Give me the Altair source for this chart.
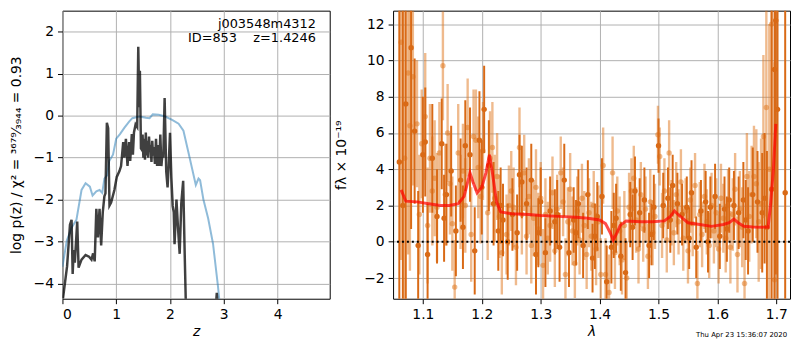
import altair as alt
import pandas as pd

# ---------------- left panel: log p(z) ----------------
z_blue = [0.0, 0.08, 0.17, 0.26, 0.355, 0.43, 0.51, 0.56, 0.63, 0.69, 0.74, 0.78, 0.83, 0.87, 0.94,
          1.0, 1.07, 1.15, 1.24, 1.30, 1.43, 1.55, 1.62, 1.68, 1.79, 1.91, 2.04, 2.16, 2.25, 2.34,
          2.42, 2.48, 2.53, 2.56, 2.62, 2.71, 2.80, 2.89, 2.95]
lp_blue = [-3.6, -2.98, -2.67, -2.48, -1.77, -1.61, -1.69, -1.9, -1.8, -1.77, -1.84, -1.5, -1.42, -1.08, -0.93,
           -0.55, -0.44, -0.29, -0.14, -0.06, -0.02, -0.05, -0.06, 0.03, 0.02, -0.02, -0.1, -0.19, -0.36, -0.86,
           -1.31, -1.65, -1.5, -1.54, -1.99, -2.45, -3.05, -4.04, -4.8]

z_black_a = [0.01, 0.086, 0.14, 0.17, 0.19, 0.21, 0.23, 0.275, 0.30, 0.355, 0.43, 0.495, 0.54, 0.57, 0.60,
             0.63, 0.66, 0.69, 0.72, 0.75, 0.78, 0.80, 0.826, 0.85, 0.875, 0.905, 0.966, 1.01, 1.06, 1.09,
             1.13, 1.15, 1.18, 1.21, 1.24, 1.26, 1.29, 1.31, 1.33, 1.36, 1.39, 1.41, 1.43, 1.44, 1.46,
             1.47, 1.49, 1.505, 1.52, 1.535, 1.55, 1.565, 1.58, 1.595, 1.61, 1.625, 1.64, 1.655, 1.67, 1.685,
             1.70, 1.72, 1.74, 1.76, 1.78, 1.80, 1.82, 1.84, 1.86, 1.875, 1.90, 1.93, 1.955, 1.975, 2.0,
             2.025, 2.05, 2.07, 2.085, 2.12, 2.15, 2.18, 2.21, 2.245, 2.27, 2.30]
lp_black_a = [-4.35, -3.59, -2.6, -2.48, -3.77, -3.2, -3.5, -2.52, -3.62, -3.43, -3.32, -3.36, -3.43, -3.28, -3.47,
              -2.22, -2.9, -2.22, -3.09, -2.3, -1.92, -1.85, -0.17, -0.3, -2.14, -2.07, -1.77, -1.46, -1.32, -1.2,
              -0.63, -1.0, -0.55, -1.2, -0.63, -1.08, -0.44, -0.93, -0.4, -0.21, -0.27, 1.64, 0.2, 1.07, -0.78,
              -0.8, -0.45, -1.0, -0.55, -1.05, -0.4, -0.95, -0.6, -1.0, -0.5, -0.85, -0.7, -1.1, -0.6, -0.95,
              -0.75, -1.15, -0.55, -1.2, -0.7, -1.2, -0.45, -1.2, -0.9, -1.0, 0.42, -1.33, -1.71, -1.2, -0.41,
              -1.47, -2.15, -2.3, -3.06, -2.0, -2.7, -3.29, -2.09, -1.55, -3.1, -4.8]
z_black_b = [2.85, 2.87, 2.89]
lp_black_b = [-4.6, -4.22, -4.6]

label_name = "j003548m4312"
label_id = "ID=853\u00a0\u00a0\u00a0\u00a0z=1.4246"

# ---------------- right panel: spectrum ----------------
wave_dark = [1.060, 1.066, 1.071, 1.080, 1.086, 1.092, 1.100, 1.108, 1.116, 1.124, 1.132, 1.140, 1.148, 1.156,
             1.164, 1.172, 1.180, 1.188, 1.196, 1.204, 1.212, 1.220, 1.228, 1.236, 1.244, 1.252, 1.260, 1.268,
             1.276, 1.284, 1.292, 1.300, 1.308, 1.316, 1.324, 1.332, 1.340, 1.348, 1.356, 1.364, 1.372, 1.380,
             1.388, 1.396, 1.404, 1.412, 1.420, 1.428, 1.436, 1.444, 1.452, 1.460, 1.468, 1.476, 1.484, 1.492,
             1.500, 1.508, 1.516, 1.524, 1.532, 1.540, 1.548, 1.556, 1.564, 1.572, 1.580, 1.588, 1.596, 1.604,
             1.612, 1.620, 1.628, 1.636, 1.644, 1.652, 1.660, 1.668, 1.676, 1.684, 1.692, 1.697, 1.699, 1.702,
             1.715,
             1.104, 1.136, 1.168, 1.200, 1.232, 1.264, 1.296, 1.328, 1.360, 1.392, 1.424, 1.456, 1.488, 1.520,
             1.552, 1.584, 1.616, 1.648, 1.680]
flux_dark = [4.4, 2.0, 7.6, 10.7, 6.1, -0.2, 4.8, -0.7, 4.6, 1.4, 5.4, 2.6, 3.9, 0.6,
             3.4, 5.3, 4.8, -0.5, 5.6, 7.3, 4.2, 2.1, 0.6, 1.2, 0.0, 1.5, 0.5, 3.3,
             2.1, 3.4, -0.7, 2.2, -0.6, 1.7, 1.1, -0.3, 3.4, -0.6, 1.2, 2.1, -0.2, 2.6,
             -0.9, 1.4, 2.5, -2.2, -0.3, 1.3, -0.8, -1.7, 1.5, 2.8, 1.6, 2.3, -0.2, 1.9,
             5.3, 2.0, 2.4, 3.1, 2.1, 1.5, 1.9, 2.7, -0.3, 1.7, 2.2, 1.9, 2.5, 0.3,
             1.8, 2.3, 2.0, 1.6, 2.3, 0.6, 2.6, 2.2, 1.6, 0.8, 2.9, 9.5, 12.2, 7.3,
             2.7,
             5.5, 1.3, 0.8, 3.0, 2.0, 3.7, 0.5, 1.5, 0.5, 0.3, 0.9, 0.8, 0.4, 1.2,
             0.2, 0.0, 0.7, 1.2, 2.4]
err_dark = [12, 12, 12, 10, 4.0, 3.0, 3.2, 2.8, 3.0, 2.6, 2.5, 2.8, 2.5, 2.5,
            2.3, 2.5, 2.6, 2.4, 2.7, 2.4, 2.5, 2.3, 2.2, 2.0, 2.1, 2.0, 2.1, 2.0,
            2.0, 2.0, 2.2, 1.9, 1.9, 1.9, 1.8, 1.9, 2.0, 1.9, 1.8, 1.9, 1.8, 1.9,
            1.9, 1.9, 2.1, 2.0, 2.0, 1.9, 1.9, 1.9, 1.8, 1.9, 1.9, 1.8, 1.8, 1.8,
            1.5, 1.8, 1.7, 1.7, 1.7, 1.7, 1.7, 1.8, 1.7, 1.7, 1.7, 1.7, 1.8, 1.8,
            1.8, 1.8, 1.9, 2.0, 2.1, 2.4, 2.6, 2.8, 3.3, 4.2, 14, 14, 14, 14,
            20,
            3.0, 2.4, 2.3, 2.6, 2.1, 2.2, 1.9, 1.9, 1.8, 1.8, 1.8, 1.8, 1.7, 1.8,
            1.7, 1.7, 1.8, 2.2, 3.6]

wave_light = [1.063, 1.069, 1.075, 1.078, 1.083, 1.090, 1.098, 1.104, 1.112, 1.120, 1.128, 1.134, 1.142, 1.150,
              1.154, 1.160, 1.168, 1.176, 1.182, 1.186, 1.194, 1.202, 1.210, 1.218, 1.226, 1.234, 1.242, 1.250,
              1.258, 1.264, 1.272, 1.280, 1.288, 1.296, 1.304, 1.312, 1.320, 1.328, 1.334, 1.342, 1.350, 1.358,
              1.366, 1.374, 1.382, 1.390, 1.398, 1.406, 1.410, 1.416, 1.422, 1.430, 1.438, 1.446, 1.454, 1.462,
              1.470, 1.478, 1.486, 1.494, 1.499, 1.502, 1.510, 1.518, 1.526, 1.534, 1.542, 1.550, 1.558, 1.566,
              1.574, 1.582, 1.590, 1.598, 1.606, 1.614, 1.622, 1.630, 1.638, 1.646, 1.654, 1.662, 1.670, 1.678,
              1.683, 1.688, 1.692, 1.697,
              1.094, 1.108, 1.116, 1.124, 1.138, 1.146, 1.164, 1.172, 1.190, 1.198, 1.214, 1.222, 1.230, 1.246,
              1.254, 1.268, 1.276, 1.284, 1.292, 1.300, 1.308, 1.316, 1.324, 1.338, 1.346, 1.354, 1.362, 1.370,
              1.378, 1.386, 1.394, 1.402, 1.426, 1.434, 1.442, 1.450, 1.458, 1.466, 1.474, 1.482, 1.490, 1.506,
              1.514, 1.522, 1.530, 1.538, 1.546, 1.554, 1.562, 1.570, 1.578, 1.586, 1.594, 1.602, 1.610, 1.618,
              1.626, 1.634, 1.642, 1.650, 1.658, 1.666, 1.674]
flux_light = [11.0, 4.6, 9.3, 6.4, 9.1, 6.5, 5.4, 6.9, 4.6, 3.5, 4.9, 9.7, 6.0, 1.0,
              -2.5, 4.9, 3.9, 6.3, 0.4, 5.8, 4.1, 5.0, 1.6, 5.2, 3.6, -0.6, 0.4, 2.8,
              -0.3, 5.2, 3.8, 2.5, 1.3, 0.7, -1.3, 0.2, 2.7, 1.8, 3.8, -1.8, 2.9, -1.2,
              0.1, 0.9, 1.6, 2.0, 1.1, 4.2, -1.8, -2.8, 3.8, 1.7, -1.0, -2.0, 2.8, 1.2,
              2.6, 1.8, 2.2, 1.4, 5.9, 4.7, 2.8, 4.9, 0.5, 1.1, 0.2, -0.5, 1.0, -2.3,
              0.4, 1.1, 2.0, 1.6, 2.4, 0.2, -0.3, 2.9, 1.8, -2.3, 1.4, 3.6, 1.1, 5.8,
              7.4, 4.0, 12.0, -2.1,
              1.5, 0.9, 2.8, 1.9, 2.6, 3.2, 2.2, 2.0, 5.6, 2.5, 4.6, 2.4, 1.4, 2.0,
              1.9, 1.5, 0.3, -0.2, 3.0, 2.4, 1.5, 0.9, -0.5, 2.2, 1.1, 0.6, 1.7, 2.4,
              -0.7, 0.3, -0.4, -1.8, -0.6, 0.6, 0.9, 1.9, 3.5, -0.4, 0.7, -0.8, 0.5, 0.9,
              0.1, 1.6, 2.6, 3.3, 1.7, 2.3, 3.1, 1.5, 2.5, -0.2, 0.6, -0.4, 1.3, 2.0,
              1.5, -0.7, 0.8, 3.6, 2.6, 3.2, 2.1]
err_light = [12, 10, 10, 8, 6, 3.5, 3.0, 3.5, 3.0, 3.2, 2.8, 3.0, 2.7, 2.6,
             2.6, 2.7, 2.6, 2.7, 2.6, 2.6, 2.8, 2.7, 2.6, 2.5, 2.4, 2.3, 2.2, 2.2,
             2.1, 2.2, 2.1, 2.1, 2.1, 2.0, 2.0, 2.0, 2.0, 1.9, 2.0, 2.0, 2.0, 1.9,
             1.9, 1.9, 1.9, 1.9, 2.0, 2.1, 2.0, 2.1, 2.0, 1.9, 1.9, 2.0, 1.8, 1.8,
             1.8, 1.8, 1.8, 1.8, 1.6, 1.6, 1.8, 1.8, 1.8, 1.8, 1.8, 1.8, 1.8, 1.8,
             1.8, 1.8, 1.8, 1.9, 1.9, 1.9, 2.0, 2.0, 2.1, 2.3, 2.5, 2.8, 3.3, 4.5,
             6.0, 8.0, 10, 12,
             3.3, 3.2, 3.0, 3.0, 2.8, 2.8, 2.6, 2.6, 2.8, 2.6, 2.6, 2.4, 2.3, 2.2,
             2.2, 2.2, 2.1, 2.1, 2.1, 2.0, 2.0, 2.0, 2.0, 1.9, 1.9, 1.9, 1.9, 1.9,
             1.9, 1.9, 2.0, 2.0, 2.0, 1.9, 1.9, 1.9, 1.8, 1.9, 1.8, 1.8, 1.8, 1.8,
             1.8, 1.8, 1.8, 1.8, 1.8, 1.8, 1.8, 1.8, 1.8, 1.8, 1.8, 1.9, 1.9, 2.0,
             2.0, 2.1, 2.2, 2.4, 2.7, 3.0, 3.6]

wave_model = [1.063, 1.071, 1.09, 1.11, 1.13, 1.145, 1.16, 1.17, 1.18, 1.185, 1.192, 1.20, 1.207, 1.213,
              1.218, 1.225, 1.232, 1.25, 1.28, 1.30, 1.33, 1.36, 1.38, 1.40, 1.41, 1.418, 1.423, 1.428,
              1.435, 1.445, 1.47, 1.49, 1.51, 1.52, 1.527, 1.535, 1.55, 1.57, 1.59, 1.61, 1.62, 1.628,
              1.635, 1.645, 1.66, 1.686, 1.69, 1.695, 1.699]
flux_model = [2.86, 2.24, 2.2, 2.1, 2.0, 2.0, 2.1, 2.5, 3.8, 3.3, 2.7, 3.0, 3.8, 4.8,
              3.8, 2.2, 1.65, 1.55, 1.5, 1.45, 1.4, 1.35, 1.3, 1.2, 1.0, 0.5, 0.1, 0.4,
              0.9, 1.15, 1.1, 1.1, 1.15, 1.4, 1.7, 1.45, 1.05, 0.95, 0.85, 0.95, 1.05, 1.25,
              1.05, 0.85, 0.82, 0.8, 2.0, 4.0, 6.5]

timestamp = "Thu Apr 23 15:36:07 2020"

# ---------------- build ----------------
FONT = "DejaVu Sans"
DARK = "#d96a16"
LIGHT = "#e0761c"
H = 291
WL, WR = 270, 401

blue_df = pd.DataFrame({"z": z_blue, "lp": lp_blue})
black_df = pd.DataFrame({
    "z": z_black_a + z_black_b,
    "lp": lp_black_a + lp_black_b,
    "seg": ["a"] * len(z_black_a) + ["b"] * len(z_black_b),
})

minus = "replace(datum.label, '-', '\u2212')"
xl = alt.X("z:Q", scale=alt.Scale(domain=[0, 4.97], nice=False, zero=False),
           axis=alt.Axis(values=[0, 1, 2, 3, 4], format="d", title="z", titleFontStyle="italic"))
yl = alt.Y("lp:Q", scale=alt.Scale(domain=[-4.36, 2.5], nice=False, zero=False),
           axis=alt.Axis(values=[-4, -3, -2, -1, 0, 1, 2], format="d", labelExpr=minus,
                         title="log p(z) / \u03c7\u00b2 = \u00b3\u2076\u2077\u2079\u2044\u2083\u2089\u2084\u2084 = 0.93",
                         titlePadding=10))

blue = alt.Chart(blue_df).mark_line(color="#1f77b4", opacity=0.5, strokeWidth=2, clip=True).encode(x=xl, y=yl)
black = alt.Chart(black_df).mark_line(color="black", opacity=0.75, strokeWidth=2.5, clip=True).encode(
    x=xl, y=yl, detail="seg:N")
t1 = alt.Chart(pd.DataFrame({"t": [label_name]})).mark_text(
    align="right", baseline="alphabetic", fontSize=13, font=FONT, color="black").encode(
    x=alt.value(256), y=alt.value(18), text="t:N")
t2 = alt.Chart(pd.DataFrame({"t": [label_id]})).mark_text(
    align="right", baseline="alphabetic", fontSize=13, font=FONT, color="black").encode(
    x=alt.value(256), y=alt.value(32), text="t:N")
left = alt.layer(blue, black, t1, t2).properties(width=WL, height=H)

dark_df = pd.DataFrame({"w": wave_dark, "f": flux_dark, "e": err_dark})
light_df = pd.DataFrame({"w": wave_light, "f": flux_light, "e": err_light})
model_df = pd.DataFrame({"w": wave_model, "f": flux_model})

xr_scale = alt.Scale(domain=[1.0494, 1.7232], nice=False, zero=False)
yr_scale = alt.Scale(domain=[-3.14, 12.74], nice=False, zero=False)
xr_axis = alt.Axis(values=[1.1, 1.2, 1.3, 1.4, 1.5, 1.6, 1.7], format=".1f", title="\u03bb",
                   titleFontStyle="italic")
yr_axis = alt.Axis(values=[-2, 0, 2, 4, 6, 8, 10, 12], format="d", labelExpr=minus,
                   title="f\u03bb \u00d7 10\u207b\u00b9\u2079", titlePadding=15)
xr = alt.X("w:Q", scale=xr_scale, axis=xr_axis)


def bars(df, color, op, sw):
    base = alt.Chart(df).transform_calculate(lo="datum.f - datum.e", hi="datum.f + datum.e")
    r = base.mark_rule(color=color, opacity=op, strokeWidth=sw, clip=True).encode(
        x=xr, y=alt.Y("lo:Q", scale=yr_scale, axis=yr_axis), y2="hi:Q")
    p = base.mark_circle(color=color, opacity=op, size=30, clip=True).encode(
        x=xr, y=alt.Y("f:Q", scale=yr_scale, axis=yr_axis))
    return r, p


lr, lpnt = bars(light_df, LIGHT, 0.5, 2.4)
dr, dpnt = bars(dark_df, DARK, 1.0, 2.0)
model = alt.Chart(model_df).mark_line(color="red", opacity=0.7, strokeWidth=3, clip=True).encode(
    x=xr, y=alt.Y("f:Q", scale=yr_scale, axis=yr_axis))
zero = alt.Chart(pd.DataFrame({"v": [0]})).mark_rule(
    color="black", strokeWidth=2, strokeDash=[2, 3]).encode(y=alt.Y("v:Q", scale=yr_scale, axis=yr_axis))
stamp = alt.Chart(pd.DataFrame({"t": [timestamp]})).mark_text(
    fontSize=7, font=FONT, color="black", align="center", baseline="middle").encode(
    x=alt.value(352), y=alt.value(H + 37), text="t:N")
right = alt.layer(lr, lpnt, dr, dpnt, model, zero, stamp).properties(width=WR, height=H)

chart = alt.hconcat(left, right, spacing=3).configure(
    font=FONT, padding=0, background="white"
).configure_view(stroke="black", strokeWidth=1).configure_axis(
    labelFont=FONT, titleFont=FONT, labelFontSize=14, titleFontSize=14, labelColor="black",
    titleColor="black", titleFontWeight="normal", tickColor="black", tickSize=5, labelPadding=4,
    titlePadding=3, gridColor="#b0b0b0", gridWidth=1, domain=False,
)

chart.save("out.html", embed_options={"renderer": "svg", "actions": False})
